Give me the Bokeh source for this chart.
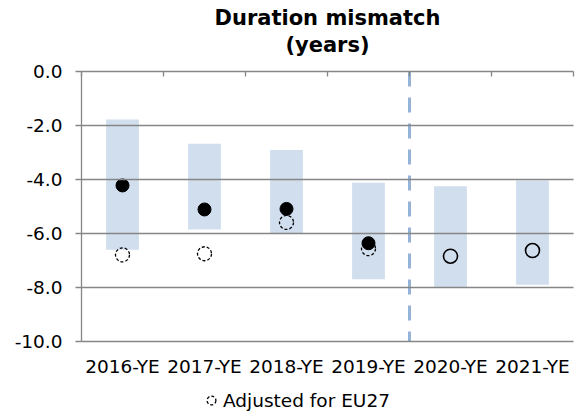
import numpy as np
from bokeh.plotting import figure
from bokeh.models import (FixedTicker, LinearAxis, Range1d, Legend, LegendItem,
                          ColumnDataSource, NumeralTickFormatter, CustomJSTickFormatter, Title)
from bokeh.core.properties import value
from bokeh.embed import file_html
from bokeh.resources import INLINE

# ---- data ----
categories = ["2016-YE", "2017-YE", "2018-YE", "2019-YE", "2020-YE", "2021-YE"]
range_high = [-1.78, -2.68, -2.91, -4.12, -4.25, -4.04]
range_low = [-6.60, -5.85, -6.00, -7.69, -8.02, -7.90]
median = [-4.22, -5.11, -5.09, -6.36, np.nan, np.nan]
adjusted_eu27 = [-6.79, -6.75, -5.59, -6.56, np.nan, np.nan]
eu27 = [np.nan, np.nan, np.nan, np.nan, -6.84, -6.63]
y_ticks = [-10.0, -8.0, -6.0, -4.0, -2.0, 0.0]
split_category = "2020-YE"
title_lines = ["Duration mismatch", "(years)"]
legend_label = "Adjusted for EU27"

# ---- style / layout ----
FONT = "DejaVu Sans"
GRAY = "#868686"
BAR = "#D0DEEE"
SPLIT = "#95B3D7"
TXT = "#000000"
FS = "18.5px"
W, H = 582, 414
FRAME_TOP, PLOT_BOTTOM = 71, 341          # pixel rows of 0.0 and -10.0
y_max, y_min = max(y_ticks), min(y_ticks)
px_per_unit = (PLOT_BOTTOM - FRAME_TOP) / (y_max - y_min)
y_start = y_max - (H - FRAME_TOP) / px_per_unit   # frame reaches canvas bottom
label_y = y_min - 25 / px_per_unit                # category labels below plot

x = [i + 0.5 for i in range(len(categories))]
src = ColumnDataSource(dict(x=x, high=range_high, low=range_low,
                            median=median, adj=adjusted_eu27, eu=eu27))

p = figure(width=W, height=H, output_backend="svg", toolbar_location=None,
           x_range=Range1d(0, len(categories)),
           y_range=Range1d(y_start, y_max),
           x_axis_location=None,
           min_border_left=81, min_border_right=9, min_border_top=FRAME_TOP,
           min_border_bottom=0)
p.outline_line_color = None
p.background_fill_color = "white"
p.border_fill_color = "white"

# y axis
yax = p.yaxis[0]
yax.ticker = FixedTicker(ticks=y_ticks)
yax.formatter = NumeralTickFormatter(format="0.0")
yax.bounds = (y_min, y_max)
yax.axis_line_color = GRAY
yax.axis_line_width = 1.3
yax.major_tick_line_color = GRAY
yax.major_tick_line_width = 1.3
yax.major_tick_out = 6
yax.major_tick_in = 0
yax.minor_tick_line_color = None
yax.major_label_standoff = 13
yax.major_label_text_font = FONT
yax.major_label_text_font_size = FS
yax.major_label_text_color = TXT

# top axis line with category boundary ticks
top = LinearAxis(ticker=FixedTicker(ticks=list(range(len(categories) + 1))),
                 formatter=CustomJSTickFormatter(code="return ''"))
top.axis_line_color = GRAY
top.axis_line_width = 1.3
top.major_tick_line_color = GRAY
top.major_tick_line_width = 1.3
top.major_tick_in = 5
top.major_tick_out = 0
top.minor_tick_line_color = None
top.major_label_standoff = 0
p.add_layout(top, "above")

# grid
p.xgrid.visible = False
p.ygrid[0].ticker = FixedTicker(ticks=y_ticks)
p.ygrid[0].grid_line_color = GRAY
p.ygrid[0].grid_line_width = 1.3
p.ygrid[0].level = "overlay"

# spacer between plot and title, then the two title lines
p.add_layout(Title(text=" ", text_font=FONT, text_font_size="9px",
                   standoff=1), "above")
p.add_layout(Title(text=title_lines[1], align="center", text_font=FONT,
                   text_font_size="21px", text_font_style="bold",
                   text_color=TXT, standoff=3), "above")
p.add_layout(Title(text=title_lines[0], align="center", text_font=FONT,
                   text_font_size="21px", text_font_style="bold",
                   text_color=TXT, standoff=0), "above")

# glyphs
p.vbar(x="x", width=0.4, top="high", bottom="low", source=src,
       fill_color=BAR, line_color=None)
r_adj = p.scatter("x", "adj", source=src, marker="circle", size=14,
                  fill_color=None, line_color="black", line_width=1.3,
                  line_dash="3 2")
p.scatter("x", "median", source=src, marker="circle", size=13,
          fill_color="black", line_color="black")
p.scatter("x", "eu", source=src, marker="circle", size=14,
          fill_color=None, line_color="black", line_width=1.6)

# vertical dashed separator before the split category
split_x = categories.index(split_category)
p.segment(x0=[split_x], y0=[y_max], x1=[split_x], y1=[y_min],
          line_color=SPLIT, line_width=3, line_dash="15 11")

# category labels under the plot
p.text(x=x, y=[label_y] * len(categories), text=categories,
       text_align="center", text_baseline="middle",
       text_font=value(FONT), text_font_size=FS, text_color=TXT)

legend = Legend(items=[LegendItem(label=legend_label, renderers=[r_adj])],
                location=(119, 3), orientation="horizontal",
                padding=0, margin=0, spacing=0,
                glyph_width=22, glyph_height=22, label_standoff=1,
                label_text_font=FONT, label_text_font_size=FS,
                label_text_color=TXT,
                background_fill_alpha=0, border_line_color=None)
p.add_layout(legend)

open("out.html", "w").write(file_html(p, INLINE))
